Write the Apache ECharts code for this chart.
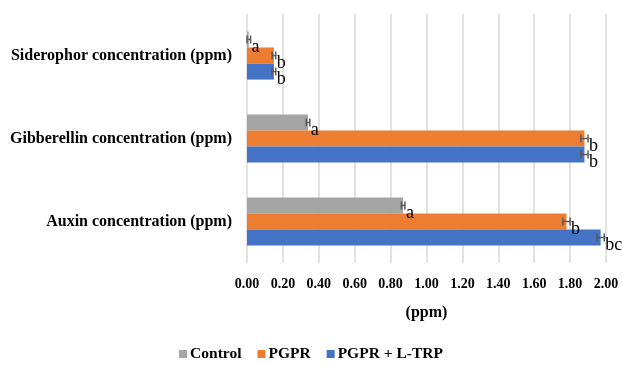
<!DOCTYPE html>
<html>
<head>
<meta charset="utf-8">
<script src="https://cdn.jsdelivr.net/npm/echarts@6/dist/echarts.min.js"></script>
<style>html,body{margin:0;padding:0;background:#fff;}#c{width:622px;height:365px;}</style>
</head>
<body>
<div id="c"></div>
<script>
const categories = ['Siderophor concentration (ppm)', 'Gibberellin concentration (ppm)', 'Auxin concentration (ppm)'];
const seriesNames = ['Control', 'PGPR', 'PGPR + L-TRP'];
const controlValues = [0.01, 0.34, 0.87];
const pgprValues = [0.15, 1.88, 1.78];
const pgprTrpValues = [0.15, 1.88, 1.97];
const controlErr = [0.01, 0.01, 0.01];
const pgprErr = [0.01, 0.02, 0.02];
const pgprTrpErr = [0.01, 0.02, 0.02];
const controlLetters = ['a', 'a', 'a'];
const pgprLetters = ['b', 'b', 'b'];
const pgprTrpLetters = ['b', 'b', 'bc'];
const xTicks = ['0.00','0.20','0.40','0.60','0.80','1.00','1.20','1.40','1.60','1.80','2.00'];

const colors = ['#A5A5A5', '#ED7D31', '#4472C4'];
const values = [controlValues, pgprValues, pgprTrpValues];
const errs = [controlErr, pgprErr, pgprTrpErr];
const letters = [controlLetters, pgprLetters, pgprTrpLetters];
const serif = '"Liberation Serif", "Times New Roman", serif';
const catGap = 0.42;

const chart = echarts.init(document.getElementById('c'));
const series = [];
values.forEach((vals, i) => {
  series.push({
    name: seriesNames[i], type: 'bar', data: vals,
    itemStyle: { color: colors[i] },
    barGap: '0%', barCategoryGap: (catGap * 100) + '%',
    silent: true
  });
});
values.forEach((vals, i) => {
  series.push({
    type: 'custom', silent: true, z: 5,
    data: vals.map((v, k) => [v, k, errs[i][k]]),
    encode: { x: 0, y: 1 },
    renderItem: function (params, api) {
      const v = api.value(0), k = api.value(1), e = api.value(2);
      const letter = letters[i][k];
      const band = api.size([0, 1])[1];
      const bw = band * (1 - catGap) / 3;
      const c = api.coord([v, k]);
      const yc = c[1] + (i - 1) * bw;
      const lo = api.coord([v - e, k])[0];
      const hi = api.coord([v + e, k])[0];
      const cap = 4;
      const st = { stroke: '#595959', lineWidth: 1.5 };
      return { type: 'group', children: [
        { type: 'line', shape: { x1: lo, y1: yc, x2: hi, y2: yc }, style: st },
        { type: 'line', shape: { x1: lo, y1: yc - cap, x2: lo, y2: yc + cap }, style: st },
        { type: 'line', shape: { x1: hi, y1: yc - cap, x2: hi, y2: yc + cap }, style: st },
        { type: 'text', x: hi + 1, y: yc + 8, style: { text: letter, fill: '#000', font: '18px ' + serif, textAlign: 'left', textVerticalAlign: 'middle' } }
      ]};
    }
  });
});

chart.setOption({
  animation: false,
  color: colors,
  grid: { left: 247, right: 16, top: 14, bottom: 102 },
  legend: {
    bottom: -2, left: 'center', itemWidth: 8, itemHeight: 8, itemGap: 16,
    data: seriesNames,
    icon: 'rect',
    textStyle: { fontFamily: serif, fontWeight: 'bold', fontSize: 15.5, color: '#000', padding: [0, 0, 0, -2] }
  },
  xAxis: {
    type: 'value', min: 0, max: 2, interval: 0.2,
    name: '(ppm)', nameLocation: 'middle', nameGap: 42,
    nameTextStyle: { fontFamily: serif, fontWeight: 'bold', fontSize: 16, color: '#000' },
    axisLine: { show: false }, axisTick: { show: false },
    splitLine: { lineStyle: { color: '#D9D9D9', width: 1.5 } },
    axisLabel: {
      margin: 14, fontFamily: serif, fontWeight: 'bold', fontSize: 14, color: '#000',
      formatter: (v) => xTicks[Math.round(v / 0.2)]
    }
  },
  yAxis: {
    type: 'category', data: categories, inverse: true,
    axisLine: { show: false }, axisTick: { show: false },
    axisLabel: { margin: 15, fontFamily: serif, fontWeight: 'bold', fontSize: 16, color: '#000' }
  },
  series: series
});
</script>
</body>
</html>
